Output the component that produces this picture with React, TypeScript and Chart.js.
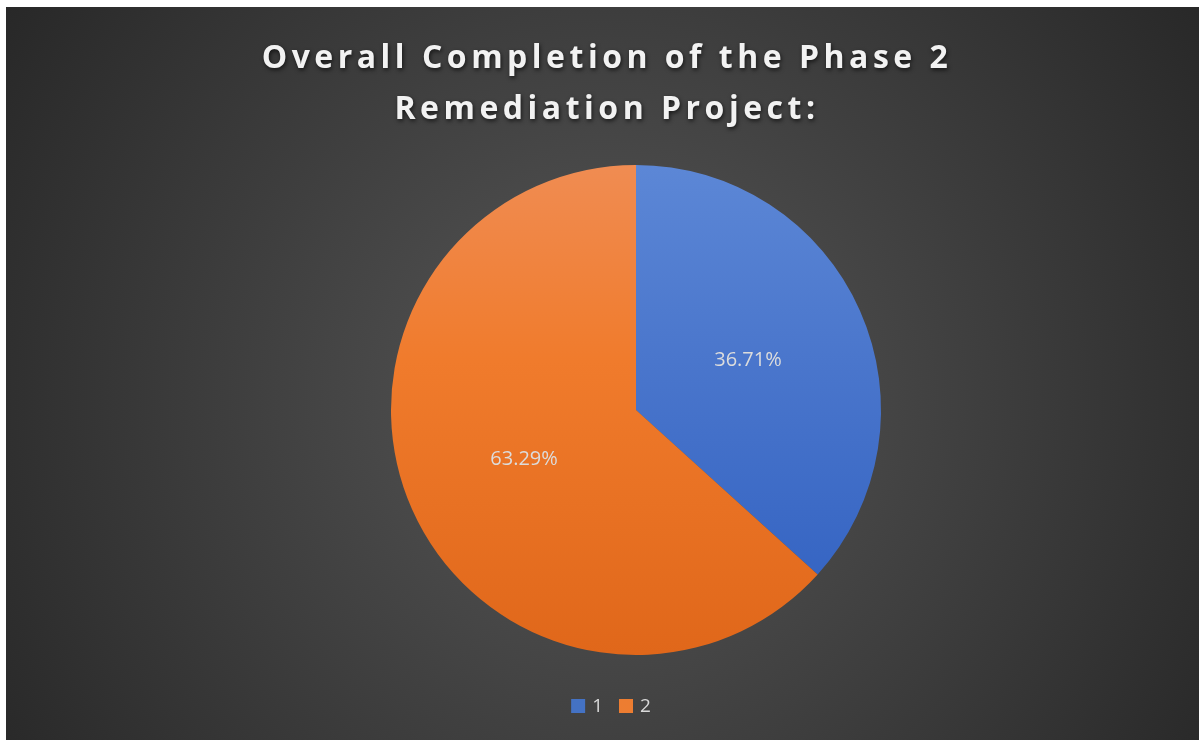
import React, { useEffect, useRef } from "react";
import { Chart, registerables } from "chart.js";

Chart.register(...registerables);

const titleLines = ["Overall Completion of the Phase 2", "Remediation Project:"];
const categories = ["1", "2"];
const values = [36.71, 63.29];
const valueLabels = ["36.71%", "63.29%"];
const topColors = ["#5c87d6", "#f08c52"];
const midColors = ["#4a76cc", "#f07b2c"];
const bottomColors = ["#2f5fc0", "#e0671a"];
const legendColors = ["#4472c4", "#ed7d31"];

const W = 1193;
const H = 733;

const bgPlugin = {
  id: "bg",
  beforeDraw(chart: any) {
    const ctx = chart.ctx;
    ctx.save();
    const g = ctx.createRadialGradient(600, 390, 0, 600, 390, 760);
    g.addColorStop(0, "#575757");
    g.addColorStop(1, "#252525");
    ctx.fillStyle = g;
    ctx.fillRect(0, 0, chart.width, chart.height);
    ctx.restore();
  },
};

const decorPlugin = {
  id: "decor",
  afterDatasetsDraw(chart: any) {
    const ctx = chart.ctx;
    const meta = chart.getDatasetMeta(0);
    ctx.save();
    ctx.font = "20px 'Open Sans', sans-serif";
    ctx.fillStyle = "#dcdcdc";
    ctx.textAlign = "center";
    ctx.textBaseline = "middle";
    meta.data.forEach((el: any, i: number) => {
      const p = el.tooltipPosition();
      ctx.fillText(valueLabels[i], p.x, p.y);
    });
    ctx.restore();
  },
  afterDraw(chart: any) {
    const ctx = chart.ctx;
    // Title
    ctx.save();
    ctx.font = "bold 32px 'Open Sans', sans-serif";
    (ctx as any).letterSpacing = "4.5px";
    ctx.textAlign = "center";
    ctx.textBaseline = "middle";
    ctx.shadowColor = "rgba(0,0,0,0.65)";
    ctx.shadowBlur = 4;
    ctx.shadowOffsetX = 1;
    ctx.shadowOffsetY = 2;
    ctx.fillStyle = "#f2f2f2";
    const ys = [52, 103];
    titleLines.forEach((t, i) => ctx.fillText(t, 601, ys[i]));
    ctx.restore();

    // Legend
    ctx.save();
    ctx.font = "19px 'Open Sans', sans-serif";
    ctx.textBaseline = "middle";
    const box = 14;
    const gap = 7;
    const itemGap = 16;
    const widths = categories.map((c) => ctx.measureText(c).width);
    const total =
      widths.reduce((a, w) => a + box + gap + w, 0) + itemGap * (categories.length - 1);
    let x = 605 - total / 2;
    const yc = 699;
    categories.forEach((c, i) => {
      ctx.fillStyle = legendColors[i];
      ctx.fillRect(x, yc - box / 2, box, box);
      x += box + gap;
      ctx.fillStyle = "#d9d9d9";
      ctx.fillText(c, x, yc + 1);
      x += widths[i] + itemGap;
    });
    ctx.restore();
  },
};

export default function App() {
  const ref = useRef<HTMLCanvasElement | null>(null);
  useEffect(() => {
    if (!ref.current) return;
    const chart = new Chart(ref.current, {
      type: "pie",
      data: {
        labels: categories,
        datasets: [
          {
            data: values,
            borderWidth: 0,
            backgroundColor: (c: any) => {
              const i = c.dataIndex;
              const area = c.chart.chartArea;
              if (!area) return legendColors[i];
              const g = c.chart.ctx.createLinearGradient(0, area.top, 0, area.bottom);
              g.addColorStop(0, topColors[i]);
              g.addColorStop(0.4, midColors[i]);
              g.addColorStop(1, bottomColors[i]);
              return g;
            },
          },
        ],
      },
      options: {
        responsive: false,
        animation: false,
        events: [],
        layout: { padding: { top: 158, bottom: 85, left: 385, right: 318 } },
        plugins: {
          legend: { display: false },
          title: { display: false },
          tooltip: { enabled: false },
        },
      },
      plugins: [bgPlugin, decorPlugin],
    });
    return () => chart.destroy();
  }, []);
  return (
    <div style={{ position: "absolute", left: 6, top: 7, width: W, height: H, background: "#2a2a2a" }}>
      <canvas ref={ref} width={W} height={H} style={{ display: "block" }} />
    </div>
  );
}
